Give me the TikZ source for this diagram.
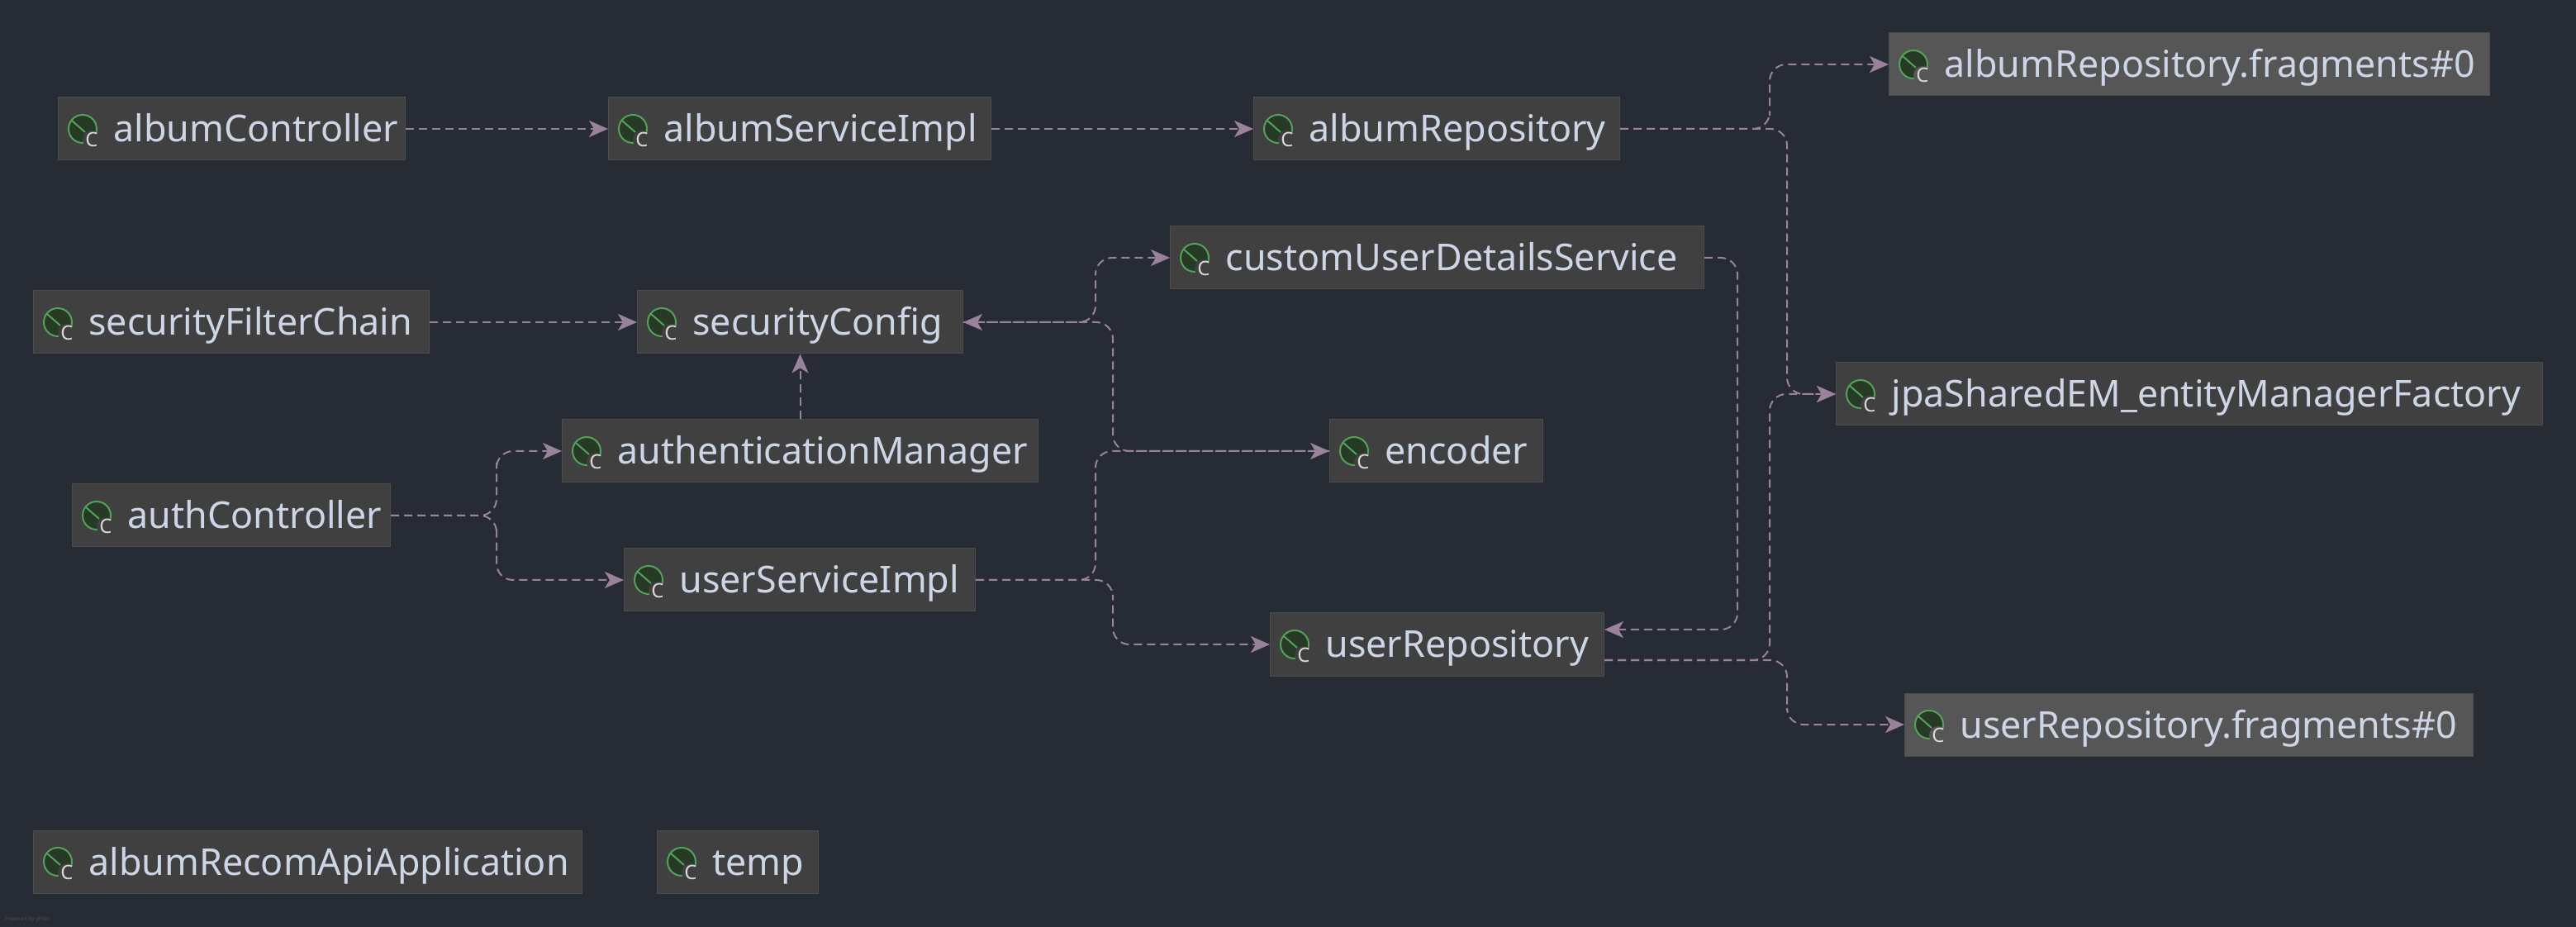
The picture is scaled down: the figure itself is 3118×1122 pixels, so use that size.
\documentclass[tikz,border=0pt]{standalone}
\usepackage{fontspec}
\setmainfont{Noto Sans}
\usetikzlibrary{arrows.meta}
\definecolor{pagebg}{HTML}{272B34}
\definecolor{boxgray}{HTML}{404040}
\definecolor{boxline}{HTML}{4A4C50}
\definecolor{fraggray}{HTML}{565656}
\definecolor{labeltext}{HTML}{CDD6E6}
\definecolor{edgemauve}{HTML}{9A829C}
\definecolor{leafgreen}{HTML}{55A05A}
\definecolor{leafdark}{HTML}{263A26}
\definecolor{badgetext}{HTML}{D8D8D8}
\tikzset{
    classbox/.style={
        anchor=west,
        draw=boxline,
        line width=0.5pt,
        fill=boxgray,
        inner sep=0pt,
        text width=#1,
        text height=27pt,
        text depth=11pt,
        align=left,
        text=labeltext,
        font=\fontsize{22.4}{26}\selectfont,
        execute at begin node={\hspace*{33.5pt}}
    },
    fragbox/.style={
        classbox=#1,
        fill=fraggray
    },
    depends/.style={
        ->,
        edgemauve,
        line width=1pt,
        dash pattern=on 5pt off 3pt,
        rounded corners=10pt
    },
    leaficon/.pic={
        \draw[leafgreen,fill=leafdark,line width=1pt] (0,0) circle (8.5pt);
        \draw[leafgreen,line width=1pt] (-13,-10) -- (3,4);
        \fill[#1] (11,13) circle (5.5pt);
        \node[text=badgetext,inner sep=0pt,font=\fontsize{12}{14}\selectfont] (badge) at (11,13) {C};
    }
}

\begin{document}
\begin{tikzpicture}[x=0.5pt,y=-0.5pt,>={Stealth[length=11.5pt,width=10pt,inset=3pt]}]
\fill[pagebg] (0,0) rectangle (3118,1122);
% top row
\node[classbox=210pt] (albumController) at (70,156) {albumController};
\node[classbox=231.5pt] (albumServiceImpl) at (736,156) {albumServiceImpl};
\node[classbox=221.5pt] (albumRepository) at (1517,156) {albumRepository};
\node[fragbox=363.5pt] (albumFragments) at (2286,78) {albumRepository.fragments\#0};
% security part
\node[classbox=323pt] (customUserDetailsService) at (1416,312) {customUserDetailsService};
\node[classbox=239.5pt] (securityFilterChain) at (40,390) {securityFilterChain};
\node[classbox=197pt] (securityConfig) at (771,390) {securityConfig};
\node[classbox=427.5pt] (entityManagerFactory) at (2222,477) {jpaSharedEM\_entityManagerFactory};
\node[classbox=288pt] (authenticationManager) at (680,546) {authenticationManager};
\node[classbox=129pt] (encoder) at (1609,546) {encoder};
% user part
\node[classbox=192.5pt] (authController) at (87,624) {authController};
\node[classbox=212.5pt] (userServiceImpl) at (755,702) {userServiceImpl};
\node[classbox=202pt] (userRepository) at (1537,780) {userRepository};
\node[fragbox=344pt] (userFragments) at (2305,877) {userRepository.fragments\#0};
% no edges
\node[classbox=332pt] (albumRecomApiApplication) at (40,1043) {albumRecomApiApplication};
\node[classbox=97.5pt] (temp) at (795,1043) {temp};
\node[anchor=west,inner sep=0pt,text=boxline,font=\fontsize{3.3}{4}\selectfont] (poweredBy) at (5,1113) {Powered by yFiles};
\foreach \n in {albumController,albumServiceImpl,albumRepository,customUserDetailsService,securityFilterChain,securityConfig,entityManagerFactory,authenticationManager,encoder,authController,userServiceImpl,userRepository,albumRecomApiApplication,temp}
    \pic at ([xshift=15pt]\n.west) {leaficon=boxgray};
\foreach \n in {albumFragments,userFragments}
    \pic at ([xshift=15pt]\n.west) {leaficon=fraggray};
% bus lines
\coordinate (albumUp) at (2142,120);
\coordinate (albumDown) at (2163,300);
\coordinate (userUp) at (2142,650);
\coordinate (userDown) at (2163,840);
\coordinate (configUp) at (1326,350);
\coordinate (configDown) at (1347,460);
\coordinate (implUp) at (1326,620);
\coordinate (implDown) at (1347,740);
\coordinate (customDown) at (2103,500);
\coordinate (authUp) at (601,580);
\coordinate (authDown) at (601,660);
\coordinate (repoIn) at ([yshift=9pt]userRepository.east);
\coordinate (repoOut) at ([yshift=-9.5pt]userRepository.east);
% edges
\draw[depends] (albumController) -- (albumServiceImpl);
\draw[depends] (albumServiceImpl) -- (albumRepository);
\draw[depends] (albumRepository.east) -| (albumUp) |- (albumFragments.west);
\draw[depends] (albumRepository.east) -| (albumDown) |- (entityManagerFactory.west);
\draw[depends] (securityFilterChain) -- (securityConfig);
\draw[depends] (authenticationManager) -- (securityConfig);
\draw[depends] (securityConfig.east) -| (configUp) |- (customUserDetailsService.west);
\draw[depends] (encoder.west) -| (configDown) |- (securityConfig.east);
\draw[depends] (userServiceImpl.east) -| (implUp) |- (encoder.west);
\draw[depends] (userServiceImpl.east) -| (implDown) |- (userRepository.west);
\draw[depends] (customUserDetailsService.east) -| (customDown) |- (repoIn);
\draw[depends] (repoOut) -| (userUp) |- (entityManagerFactory.west);
\draw[depends] (repoOut) -| (userDown) |- (userFragments.west);
\draw[depends] (authController.east) -| (authUp) |- (authenticationManager.west);
\draw[depends] (authController.east) -| (authDown) |- (userServiceImpl.west);
\end{tikzpicture}
\end{document}
